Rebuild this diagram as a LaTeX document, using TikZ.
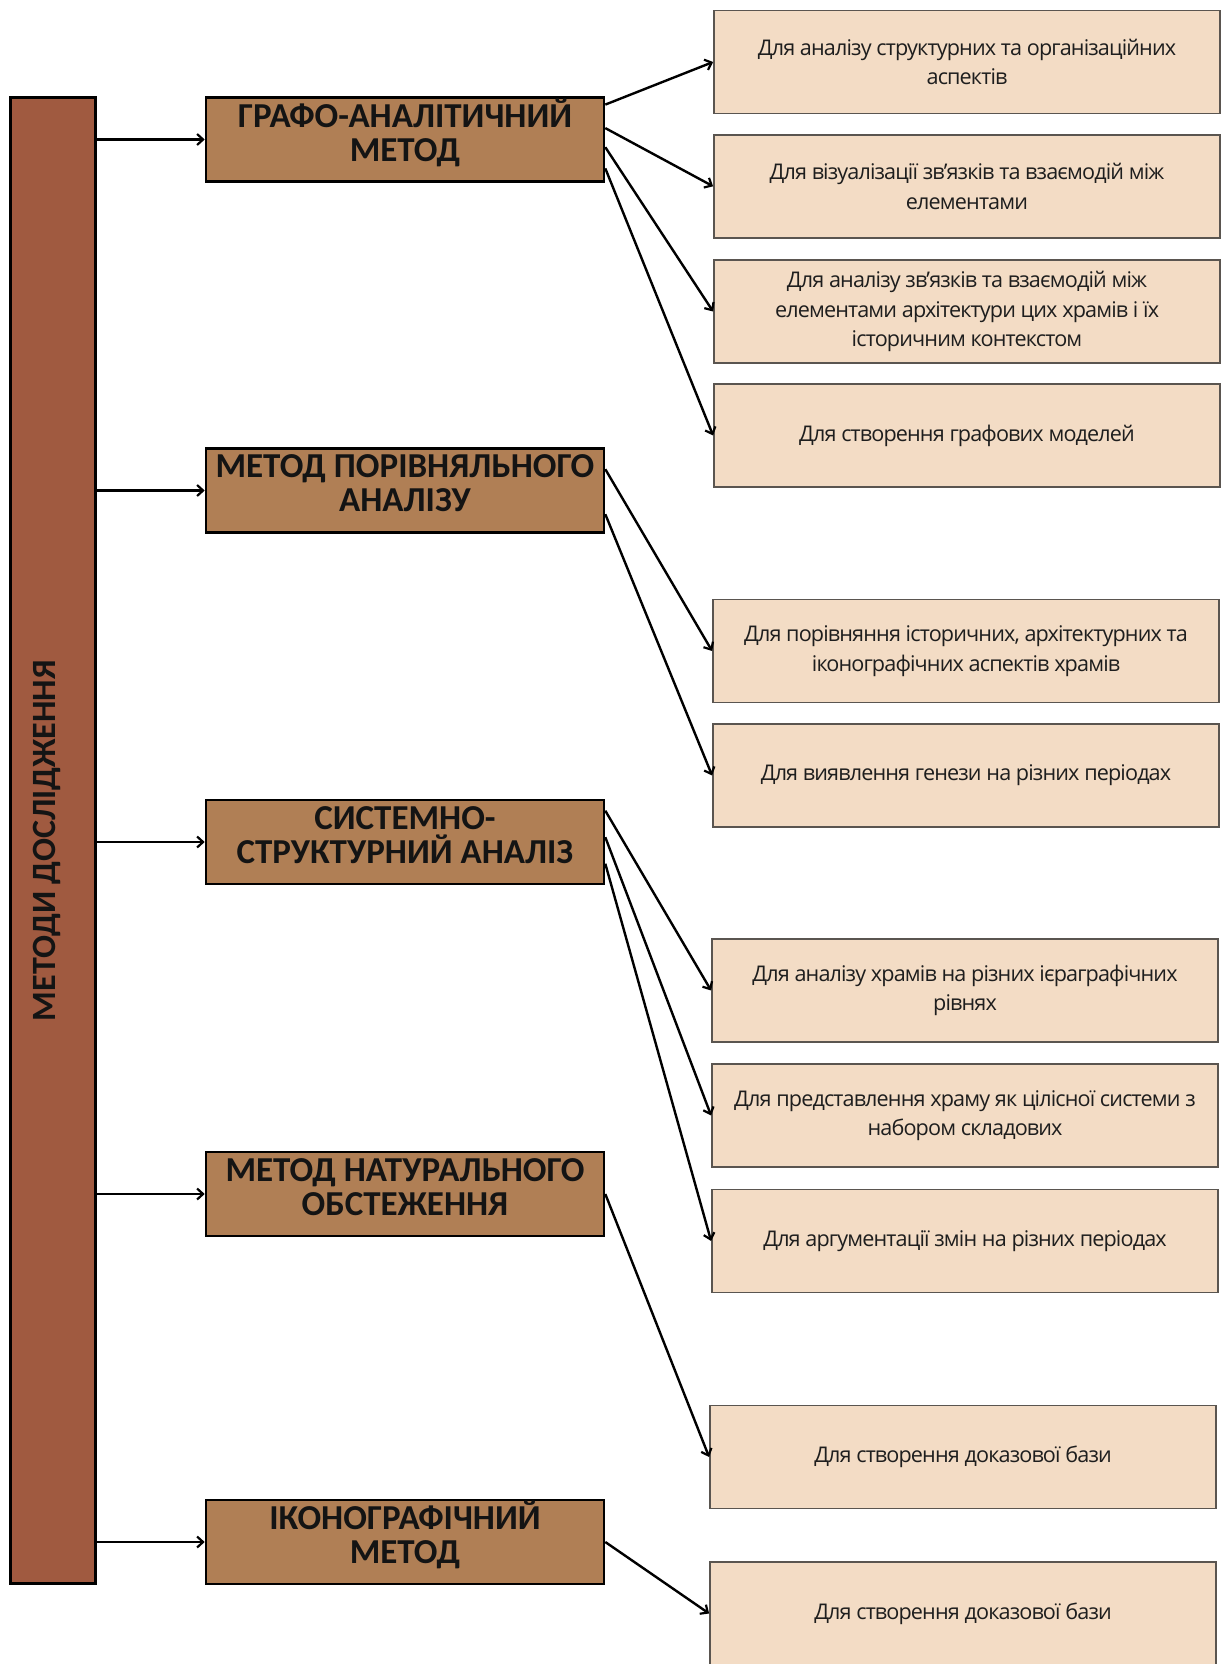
\documentclass[tikz,border=0pt]{standalone}
\usepackage{fontspec}
\setmainfont{Open Sans}[LetterSpace=-4.0]
\newfontfamily\headfont{Carlito}
\usetikzlibrary{arrows.meta,calc}
\definecolor{barfill}{HTML}{A05A40}
\definecolor{methfill}{HTML}{B07F55}
\definecolor{itemfill}{HTML}{F3DCC5}
\definecolor{itemdraw}{HTML}{5A5550}
\definecolor{txt}{HTML}{1E1E1E}
\begin{document}
\begin{tikzpicture}[x=1pt,y=-1pt,
  methtext/.style={inner sep=0pt, align=center, font=\headfont\bfseries\fontsize{35}{34}\selectfont, text=black!92},
  methbox/.style={draw=black, line width=2.6pt, fill=methfill, minimum width=398pt, minimum height=84pt,
    inner sep=0pt, label={[methtext,yshift=7pt]center:#1}},
  itembox/.style={draw=itemdraw, line width=1.8pt, fill=itemfill, minimum width=506pt, minimum height=103pt,
    inner sep=0pt, align=center, font=\fontsize{21.6}{29.5}\selectfont, text=txt},
  conn/.style={line width=2.4pt, -{Straight Barb[length=6pt,width=11pt,line width=2.2pt]}}]
\useasboundingbox (0,0) rectangle (1227,1664);
\fill[white] (0,0) rectangle (1227,1664);

% left bar
\node[draw=black, line width=2.6pt, fill=barfill, minimum width=85pt, minimum height=1486pt, inner sep=0pt]
  (bar) at (53,840.6) {};
\node[rotate=90, font=\headfont\bfseries\fontsize{34}{36}\selectfont, text=black!92] (barlabel) at (46.5,840.6) {МЕТОДИ ДОСЛІДЖЕННЯ};

% method boxes
\node[methbox={ГРАФО-АНАЛІТИЧНИЙ\\МЕТОД}] (m1) at (405,139.5) {};
\node[methbox={МЕТОД ПОРІВНЯЛЬНОГО\\АНАЛІЗУ}] (m2) at (405,490.5) {};
\node[methbox={СИСТЕМНО-\\СТРУКТУРНИЙ АНАЛІЗ}] (m3) at (405,842) {};
\node[methbox={МЕТОД НАТУРАЛЬНОГО\\ОБСТЕЖЕННЯ}] (m4) at (405,1194) {};
\node[methbox={ІКОНОГРАФІЧНИЙ\\МЕТОД}] (m5) at (405,1542) {};

% item boxes
\node[itembox] (i1) at (967,62) {Для аналізу структурних та організаційних\\аспектів};
\node[itembox] (i2) at (967,186.3) {Для візуалізації зв'язків та взаємодій між\\елементами};
\node[itembox] (i3) at (967,311.5) {Для аналізу зв'язків та взаємодій між\\елементами архітектури цих храмів і їх\\історичним контекстом};
\node[itembox] (i4) at (967,435.5) {Для створення графових моделей};
\node[itembox] (i5) at (966,651) {Для порівняння історичних, архітектурних та\\іконографічних аспектів храмів};
\node[itembox] (i6) at (966,775.5) {Для виявлення генези на різних періодах};
\node[itembox] (i7) at (965,990.5) {Для аналізу храмів на різних ієраграфічних\\рівнях};
\node[itembox] (i8) at (965,1115.5) {Для представлення храму як цілісної системи з\\набором складових};
\node[itembox] (i9) at (965,1241) {Для аргументації змін на різних періодах};
\node[itembox] (i10) at (963,1457) {Для створення доказової бази};
\node[itembox] (i11) at (963,1613.5) {Для створення доказової бази};

% bar to methods
\foreach \m in {m1,m2,m3,m4,m5}
  \draw[conn] (bar.east |- \m.west) -- (\m.west);

% methods to items
\draw[conn] ($(m1.north east)+(0,8.4)$) -- (i1.west);
\draw[conn] ($(m1.north east)+(0,31.9)$) -- (i2.west);
\draw[conn] ($(m1.north east)+(0,51)$) -- (i3.west);
\draw[conn] ($(m1.north east)+(0,72.2)$) -- (i4.west);
\draw[conn] ($(m2.north east)+(0,22)$) -- (i5.west);
\draw[conn] ($(m2.north east)+(0,67)$) -- (i6.west);
\draw[conn] ($(m3.north east)+(0,12)$) -- (i7.west);
\draw[conn] ($(m3.north east)+(0,38.5)$) -- (i8.west);
\draw[conn] ($(m3.north east)+(0,65)$) -- (i9.west);
\draw[conn] (m4.east) -- (i10.west);
\draw[conn] (m5.east) -- (i11.west);
\end{tikzpicture}
\end{document}
